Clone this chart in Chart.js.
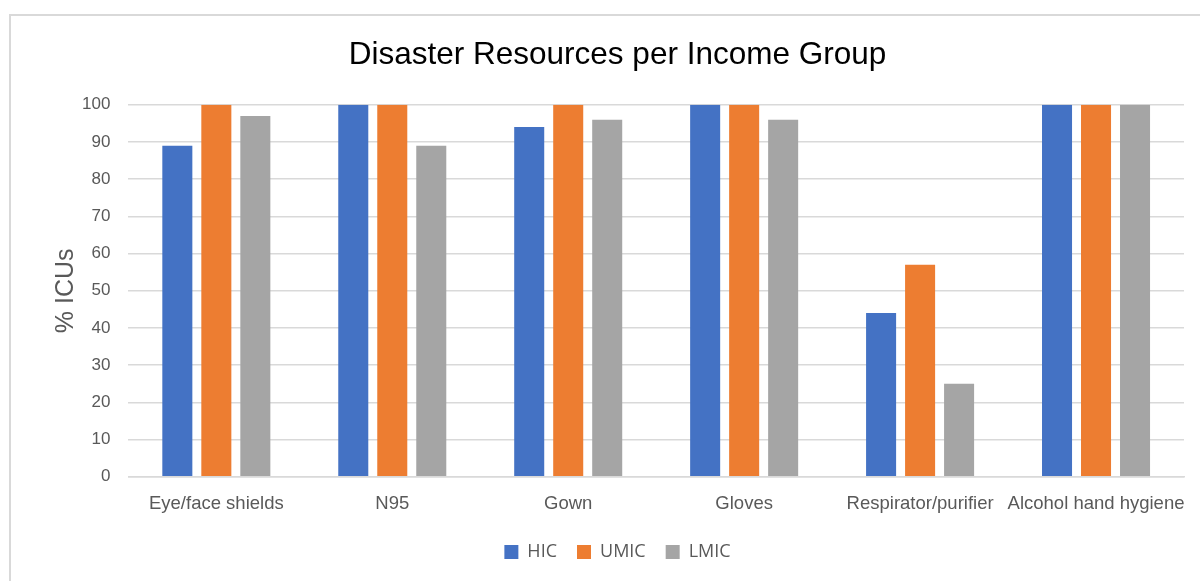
<!DOCTYPE html>
<html>
<head>
<meta charset="utf-8">
<script src="https://cdn.jsdelivr.net/npm/chart.js@4/dist/chart.umd.min.js"></script>
<style>
  html, body { margin: 0; padding: 0; overflow: hidden; background: #fff; }
  #frame { position: absolute; left: 9px; top: 14px; width: 1300px; height: 700px; border: 2px solid #d9d9d9; }
  #wrap { position: absolute; left: 9px; top: 14px; width: 1206px; height: 570px; }
</style>
</head>
<body>
<div id="frame"></div>
<div id="wrap"><canvas id="myChart"></canvas></div>
<script>
// Kategorien und Werte (in % ICUs)
const categories = ['Eye/face shields', 'N95', 'Gown', 'Gloves', 'Respirator/purifier', 'Alcohol hand hygiene'];
const hicValues  = [89, 100, 94, 100, 44, 100];
const umicValues = [100, 100, 100, 100, 57, 100];
const lmicValues = [97, 89, 96, 96, 25, 100];
const yTicks = [0, 10, 20, 30, 40, 50, 60, 70, 80, 90, 100];

const font = "'Liberation Sans', Arial, sans-serif";
const grey = '#595959';

const ctx = document.getElementById('myChart');

const chart = new Chart(ctx, {
    type: 'bar',
    data: {
        labels: categories,
        datasets: [
            { label: 'HIC', data: hicValues, backgroundColor: '#4472c4' },
            { label: 'UMIC', data: umicValues, backgroundColor: '#ed7d31' },
            { label: 'LMIC', data: lmicValues, backgroundColor: '#a5a5a5' }
        ]
    },
    options: {
        responsive: true,
        maintainAspectRatio: false,
        animation: false,
        layout: { padding: { left: 42, right: 31, top: 0, bottom: 13 } },
        datasets: {
            bar: { barPercentage: 0.77, categoryPercentage: 0.665 }
        },
        plugins: {
            title: {
                display: true,
                text: 'Disaster Resources per Income Group',
                color: '#000',
                font: { family: font, size: 31.5, weight: 'normal' },
                padding: { top: 22, bottom: 31 }
            },
            legend: {
                position: 'bottom',
                labels: {
                    color: grey,
                    font: { family: "'Open Sans', sans-serif", size: 18 },
                    boxWidth: 14,
                    boxHeight: 14,
                    padding: 20
                }
            },
            tooltip: { enabled: false }
        },
        scales: {
            x: {
                grid: { display: false },
                border: { color: '#d9d9d9', width: 1.5 },
                ticks: { color: grey, font: { family: font, size: 18.5 }, padding: 8, maxRotation: 0, autoSkip: false }
            },
            y: {
                min: 0,
                max: 100,
                afterBuildTicks: axis => { axis.ticks = yTicks.map(v => ({ value: v })); },
                grid: { color: '#d9d9d9', lineWidth: 1.5, drawTicks: false },
                border: { display: false },
                ticks: { color: grey, font: { family: font, size: 17 }, padding: 18 },
                title: {
                    display: true,
                    text: '% ICUs',
                    color: grey,
                    font: { family: font, size: 25 },
                    padding: { top: 0, bottom: -17 }
                }
            }
        }
    }
});
</script>
</body>
</html>
